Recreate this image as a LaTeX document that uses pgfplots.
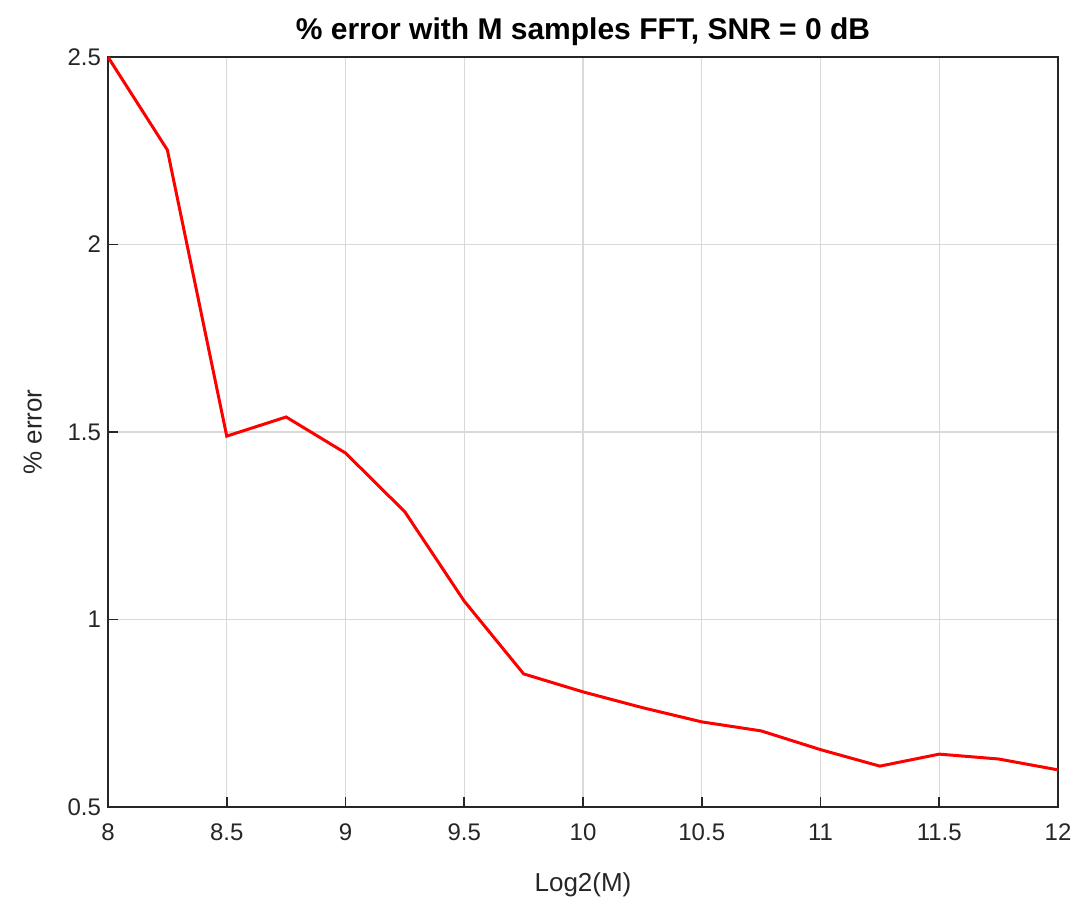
\documentclass[border=0pt]{standalone}
\usepackage{pgfplots}
\pgfplotsset{compat=1.18}
\usepackage{fontspec}
\setmainfont{Liberation Sans}
\definecolor{axgray}{RGB}{38,38,38}
\begin{document}
\begin{tikzpicture}
\begin{axis}[
  at={(0,0)}, anchor=south west,
  scale only axis, width=475pt, height=375pt,
  xmin=8, xmax=12, ymin=0.5, ymax=2.5,
  xtick={8,8.5,...,12}, ytick={0.5,1,...,2.5},
  tick align=inside, xtick pos=bottom, ytick pos=left,
  major tick length=5pt,
  grid=major, grid style={gray!30, line width=0.6pt},
  axis line style={axgray, line width=0.8pt},
  tick style={axgray, line width=0.8pt},
  ticklabel style={font=\fontsize{12}{14}\selectfont, text=axgray},
  xticklabel style={yshift=-5pt},
  /pgf/number format/assume math mode=true,
  xlabel={Log2(M)}, ylabel={\% error},
  label style={font=\fontsize{13}{15}\selectfont, text=axgray},
  xlabel style={yshift=-9pt},
  ylabel style={yshift=6pt},
  title={\textbf{\% error with M samples FFT, SNR = 0 dB}},
  title style={font=\fontsize{15}{17}\selectfont, yshift=-4pt},
]
\addplot[red, line width=1.5pt] coordinates {
  (8,2.5) (8.25,2.252) (8.5,1.489) (8.75,1.54) (9,1.444) (9.25,1.287)
  (9.5,1.049) (9.75,0.855) (10,0.807) (10.25,0.765) (10.5,0.727)
  (10.75,0.703) (11,0.653) (11.25,0.609) (11.5,0.641) (11.75,0.628) (12,0.599)
};
\end{axis}
\pgfresetboundingbox
\path[use as bounding box] (-54pt,-46.5pt) rectangle (486.5pt,403.5pt);
\end{tikzpicture}
\end{document}
